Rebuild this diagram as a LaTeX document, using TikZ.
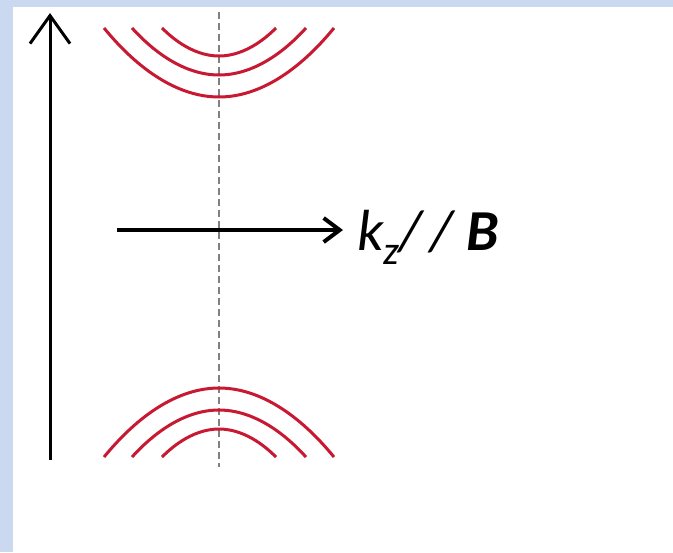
\documentclass[tikz,border=0pt]{standalone}
\usepackage{fontspec}
\newfontfamily\calfont{Carlito}
\usepackage{tikz}
\usetikzlibrary{arrows.meta}
\definecolor{frame}{RGB}{203,217,240}
\definecolor{band}{RGB}{200,25,50}
\definecolor{guide}{RGB}{128,128,128}

\begin{document}
\begin{tikzpicture}[x=0.5pt,y=-0.5pt]
			% frame
			\fill[frame] (0,0) rectangle (673,552);
			\fill[white] (13,7) rectangle (673,552);
			\useasboundingbox (0,0) rectangle (673,552);
			% energy axis
			\coordinate (ebot) at (50,460);
			\coordinate (etop) at (50,13);
			\draw[line width=1.5pt,-{Straight Barb[length=14pt,width=20pt]}] (ebot) -- (etop);
			% k=0 guide
			\coordinate (gtop) at (219,12);
			\coordinate (gbot) at (219,467);
			\draw[guide,line width=0.7pt,dash pattern=on 3.5pt off 2pt] (gtop) -- (gbot);
			% landau bands
			\foreach \w/\d in {57/28,87/47,115/69}{
				\draw[band,line width=1.5pt] (219-\w,28) parabola bend (219,28+\d) (219+\w,28);
				\draw[band,line width=1.5pt] (219-\w,457) parabola bend (219,457-\d) (219+\w,457);
			}
			% kz direction
			\coordinate (kstart) at (117,230);
			\coordinate (kend) at (343,230);
			\draw[line width=2pt,-{Straight Barb[length=8pt,width=12pt]}] (kstart) -- (kend);
			\node[anchor=base west,inner sep=0,font=\calfont\itshape\fontsize{29}{34}\selectfont] (klabel) at (357,250) {k\raisebox{-0.25em}{\fontsize{20}{22}\selectfont z}/\hspace{0.15em}/\ \textbf{B}};
		\end{tikzpicture}
\end{document}
